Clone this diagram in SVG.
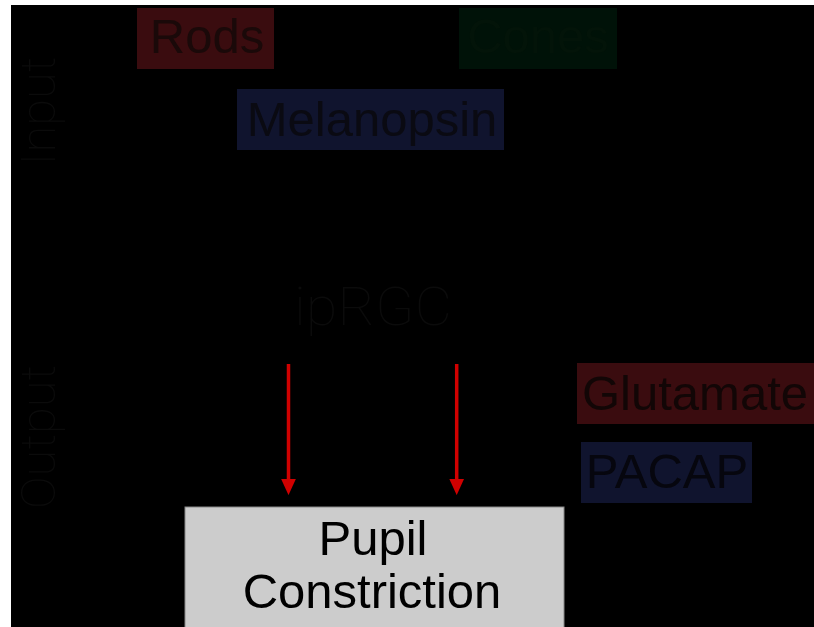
<svg xmlns="http://www.w3.org/2000/svg" width="814" height="627" viewBox="0 0 814 627">
<style>
.lbl{font-family:"Liberation Sans",Arial,sans-serif;font-size:49px;text-anchor:middle}
.thin{font-family:Roboto,"Liberation Sans",sans-serif;font-weight:100;fill:#0b0b0b;text-anchor:middle}
.red{fill:#3a0c0f}
.blue{fill:#10142e}
.arrow{stroke:#d00000;stroke-width:3.5;fill:none;marker-end:url(#ah)}
</style>
<defs>
<marker id="ah" markerWidth="4.6" markerHeight="4.2" refX="0" refY="2.1" orient="auto" markerUnits="strokeWidth" viewBox="0 0 4.6 4.2">
<path d="M0,0 L4.6,2.1 L0,4.2 Z" fill="#d00000"/>
</marker>
</defs>
<rect x="0" y="0" width="814" height="627" fill="#ffffff"/>
<rect x="11" y="5" width="803" height="622" fill="#000000"/>
<g id="label-input"><text class="thin" font-size="49" transform="translate(55,111) rotate(-90)">Input</text></g>
<g id="label-output"><text class="thin" font-size="49" transform="translate(55,437) rotate(-90)">Output</text></g>
<g id="rods"><rect class="red" x="137" y="8" width="137" height="61"/><text class="lbl" x="207" y="53" fill="#1a0909" font-size="48">Rods</text></g>
<g id="cones"><rect x="459" y="8" width="158" height="61" fill="#001208"/><text class="lbl" x="538" y="53" fill="#031409" font-size="48">Cones</text></g>
<g id="melanopsin"><rect class="blue" x="237" y="89" width="267" height="61"/><text class="lbl" x="372" y="136" fill="#0a0a12">Melanopsin</text></g>
<g id="iprgc"><text class="thin" x="373" y="325" font-size="53" textLength="158" lengthAdjust="spacingAndGlyphs">ipRGC</text></g>
<g id="glutamate"><rect class="red" x="577" y="363" width="240" height="61"/><text class="lbl" x="695" y="410" fill="#120606">Glutamate</text></g>
<g id="pacap"><rect class="blue" x="581" y="442" width="171" height="61"/><text class="lbl" x="667" y="488" fill="#06060e" font-size="47">PACAP</text></g>
<g id="pupil"><rect x="185" y="507" width="379" height="130" fill="#cccccc" stroke="#888888" stroke-width="1"/><text class="lbl" x="373" y="555" fill="#000000" font-size="52">Pupil</text><text class="lbl" x="372" y="608" fill="#000000" font-size="52">Constriction</text></g>
<g id="connectors">
<line class="arrow" x1="288.5" y1="364" x2="288.5" y2="479"/>
<line class="arrow" x1="456.7" y1="364" x2="456.7" y2="479"/>
</g>
</svg>
